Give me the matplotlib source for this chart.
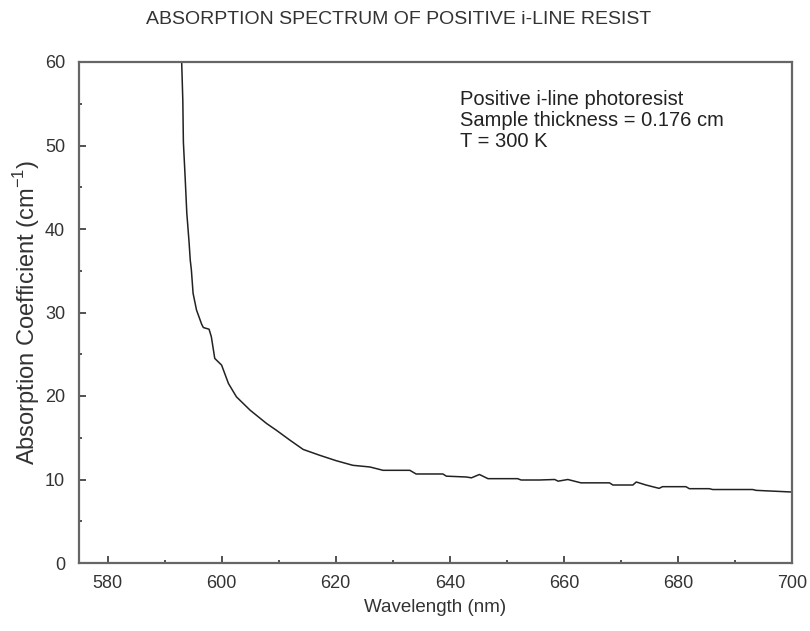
import matplotlib
matplotlib.use("Agg")
import matplotlib.pyplot as plt
from matplotlib.ticker import MultipleLocator

plt.rcParams['font.family'] = ['Liberation Sans', 'DejaVu Sans']

title = "ABSORPTION SPECTRUM OF POSITIVE i-LINE RESIST"
xlabel = "Wavelength (nm)"
ylabel = "Absorption Coefficient (cm$^{\\mathregular{-1}}$)"
note_lines = ["Positive i-line photoresist", "Sample thickness = 0.176 cm", "T = 300 K"]

wavelength = [593.0, 593.2, 593.3, 593.6, 593.9, 594.3, 594.5, 594.7, 595.0, 595.6,
              596.5, 596.8, 597.8, 598.2, 598.8, 600.0, 601.2, 602.6, 605.0, 607.9,
              609.6, 612.0, 614.3, 617.2, 620.1, 623.0, 626.0, 628.3, 633.0, 634.1,
              638.8, 639.4, 642.9, 643.8, 645.2, 646.7, 651.9, 652.5, 655.7, 658.4,
              659.0, 660.7, 663.0, 668.0, 668.6, 672.1, 672.7, 674.4, 676.7, 677.3,
              681.4, 682.0, 685.5, 686.1, 693.1, 693.7, 700.0]
absorption = [60.0, 55.4, 50.4, 46.3, 41.9, 38.4, 36.3, 35.1, 32.3, 30.3,
              28.6, 28.2, 28.0, 27.1, 24.5, 23.7, 21.5, 19.9, 18.3, 16.7,
              15.9, 14.7, 13.6, 12.9, 12.25, 11.7, 11.5, 11.1, 11.1, 10.66,
              10.66, 10.4, 10.3, 10.2, 10.6, 10.1, 10.1, 9.94, 9.94, 10.0,
              9.8, 10.0, 9.6, 9.6, 9.34, 9.34, 9.7, 9.34, 8.94, 9.14,
              9.14, 8.9, 8.9, 8.8, 8.8, 8.7, 8.5]

fig = plt.figure(figsize=(8.1, 6.31), dpi=100)
ax = fig.add_axes([79/810, 1-563/631, (792-79)/810, (563-62)/631])

ax.plot(wavelength, absorption, color='#222222', lw=1.1)

ax.set_xlim(575, 700)
ax.set_ylim(0, 60)
ax.xaxis.set_major_locator(MultipleLocator(20))
ax.xaxis.set_minor_locator(MultipleLocator(10))
ax.yaxis.set_major_locator(MultipleLocator(10))
ax.yaxis.set_minor_locator(MultipleLocator(5))
ax.tick_params(which='both', direction='in', top=False, right=False,
               color='#333333', width=1.2)
ax.tick_params(which='major', length=5, labelsize=13, labelcolor='#333333')
ax.tick_params(axis='x', which='major', pad=9)
ax.tick_params(axis='y', which='major', pad=10)
ax.tick_params(which='minor', length=2.5)
for s in ax.spines.values():
    s.set_color('#666666')
    s.set_linewidth(1.6)

ax.set_xlabel(xlabel, fontsize=13.5, color='#333333', labelpad=5)
ax.set_ylabel(ylabel, fontsize=17, color='#333333', labelpad=2)

fig.text(399/810, 1-20/631, title, ha='center', va='center', fontsize=14, color='#333333')

ax.text(0.534, 0.945, "\n".join(note_lines), transform=ax.transAxes,
        ha='left', va='top', fontsize=14.5, color='#222222', linespacing=1.15)

fig.savefig("out.png", dpi=100)
